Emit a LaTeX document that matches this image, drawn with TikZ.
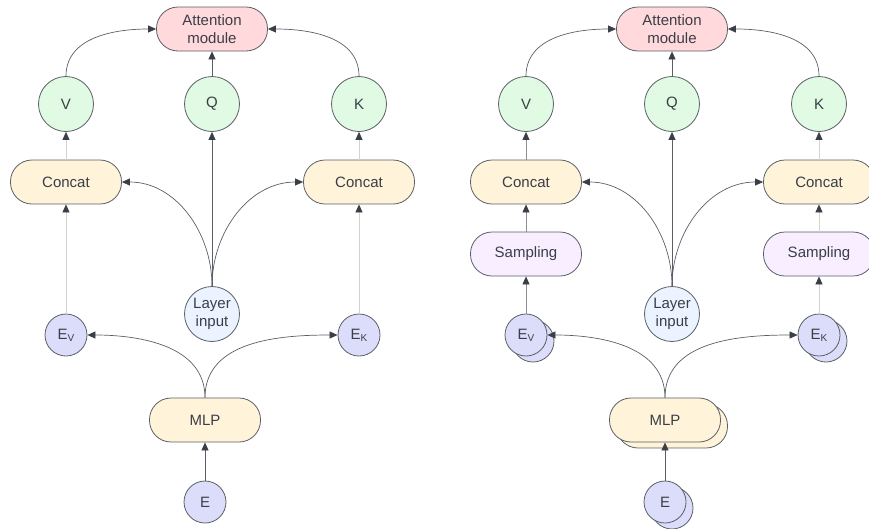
\documentclass[tikz,border=0pt]{standalone}
\usepackage{fontspec}
\setmainfont{Liberation Sans}
\usetikzlibrary{arrows.meta,shadows}
\definecolor{bord}{HTML}{5A5F66}
\definecolor{txt}{HTML}{3A3F47}
\definecolor{arrc}{HTML}{3A3F47}
\definecolor{attn}{HTML}{FFD9DC}
\definecolor{grn}{HTML}{E1FAE3}
\definecolor{ylw}{HTML}{FFF3D9}
\definecolor{pur}{HTML}{F8EEFF}
\definecolor{blu}{HTML}{EAF3FF}
\definecolor{lav}{HTML}{DCDDFA}
\definecolor{lightln}{HTML}{D2D2D2}
\definecolor{midln}{HTML}{8A8E94}
\newcommand{\subsc}[1]{\raisebox{-2pt}{\fontsize{10}{10}\selectfont #1}}
\begin{document}
\begin{tikzpicture}[x=1pt,y=-1pt,
  font=\fontsize{15}{18}\selectfont, text=txt,
  box/.style={draw=bord, rectangle, rounded corners=21.5pt, minimum width=111pt,
    minimum height=44pt, inner sep=0pt, align=center, line width=0.8pt},
  bigc/.style={draw=bord, circle, minimum size=55pt, inner sep=0pt, align=center, line width=0.8pt},
  smc/.style={draw=bord, circle, minimum size=42pt, inner sep=0pt, line width=0.8pt, fill=lav},
  stackl/.style={copy shadow={shadow xshift=7pt, shadow yshift=-6pt, fill=lav, draw=bord}},
  stacky/.style={copy shadow={shadow xshift=7pt, shadow yshift=-6pt, fill=ylw, draw=bord}},
  arr/.style={-{Triangle[length=8pt,width=7pt,color=arrc]}, draw=bord, line width=0.7pt},
  arrl/.style={arr, draw=lightln},
  arrm/.style={arr, draw=midln}]
\useasboundingbox (0,0) rectangle (869,528);
% ---------------- left panel ----------------
\node[box, fill=attn] (attnL) at (212,29) {Attention\\module};
\node[bigc, fill=grn] (VL) at (66,104) {V};
\node[bigc, fill=grn] (QL) at (212,104) {Q};
\node[bigc, fill=grn] (KL) at (359,104) {K};
\node[box, fill=ylw] (cvL) at (66,182) {Concat};
\node[box, fill=ylw] (ckL) at (359,182) {Concat};
\node[bigc, fill=blu] (layL) at (212,314) {Layer\\input};
\node[smc] (evL) at (66,335) {E\subsc{V}};
\node[smc] (ekL) at (359,335) {E\subsc{K}};
\node[box, fill=ylw] (mlpL) at (205,420) {MLP};
\node[smc] (eL) at (205,502) {E};
\draw[arr] (VL.north) to[out=90,in=180] (attnL.west);
\draw[arr] (KL.north) to[out=90,in=0] (attnL.east);
\draw[arr] (QL) -- (attnL);
\draw[arrl] (cvL) -- (VL);
\draw[arrl] (ckL) -- (KL);
\draw[arr] (layL) -- (QL);
\draw[arr] (layL.north) to[out=90,in=0] (cvL.east);
\draw[arr] (layL.north) to[out=90,in=180] (ckL.west);
\draw[arrl] (evL) -- (cvL);
\draw[arrl] (ekL) -- (ckL);
\draw[arr] (mlpL.north) to[out=90,in=0] (evL.east);
\draw[arr] (mlpL.north) to[out=90,in=180] (ekL.west);
\draw[arr] (eL) -- (mlpL);
% ---------------- right panel ----------------
\node[box, fill=attn] (attnR) at (672,29) {Attention\\module};
\node[bigc, fill=grn] (VR) at (526,104) {V};
\node[bigc, fill=grn] (QR) at (672,104) {Q};
\node[bigc, fill=grn] (KR) at (819,104) {K};
\node[box, fill=ylw] (cvR) at (526,182) {Concat};
\node[box, fill=ylw] (ckR) at (819,182) {Concat};
\node[box, fill=pur] (svR) at (526,254) {Sampling};
\node[box, fill=pur] (skR) at (819,254) {Sampling};
\node[bigc, fill=blu] (layR) at (672,314) {Layer\\input};
\node[smc, stackl] (evR) at (526,335) {E\subsc{V}};
\node[smc, stackl] (ekR) at (819,335) {E\subsc{K}};
\node[box, fill=ylw, stacky] (mlpR) at (665,420) {MLP};
\node[smc, stackl] (eR) at (665,502) {E};
\draw[arr] (VR.north) to[out=90,in=180] (attnR.west);
\draw[arr] (KR.north) to[out=90,in=0] (attnR.east);
\draw[arr] (QR) -- (attnR);
\draw[arrm] (cvR) -- (VR);
\draw[arrl] (ckR) -- (KR);
\draw[arr] (layR) -- (QR);
\draw[arr] (layR.north) to[out=90,in=0] (cvR.east);
\draw[arr] (layR.north) to[out=90,in=180] (ckR.west);
\draw[arrm] (svR) -- (cvR);
\draw[arrl] (skR) -- (ckR);
\draw[arrm] (evR) -- (svR);
\draw[arrl] (ekR) -- (skR);
\draw[arr] (mlpR.north) to[out=90,in=0] (evR.east);
\draw[arr] (mlpR.north) to[out=90,in=180] (ekR.west);
\draw[arr] (eR) -- (mlpR);
\end{tikzpicture}
\end{document}
